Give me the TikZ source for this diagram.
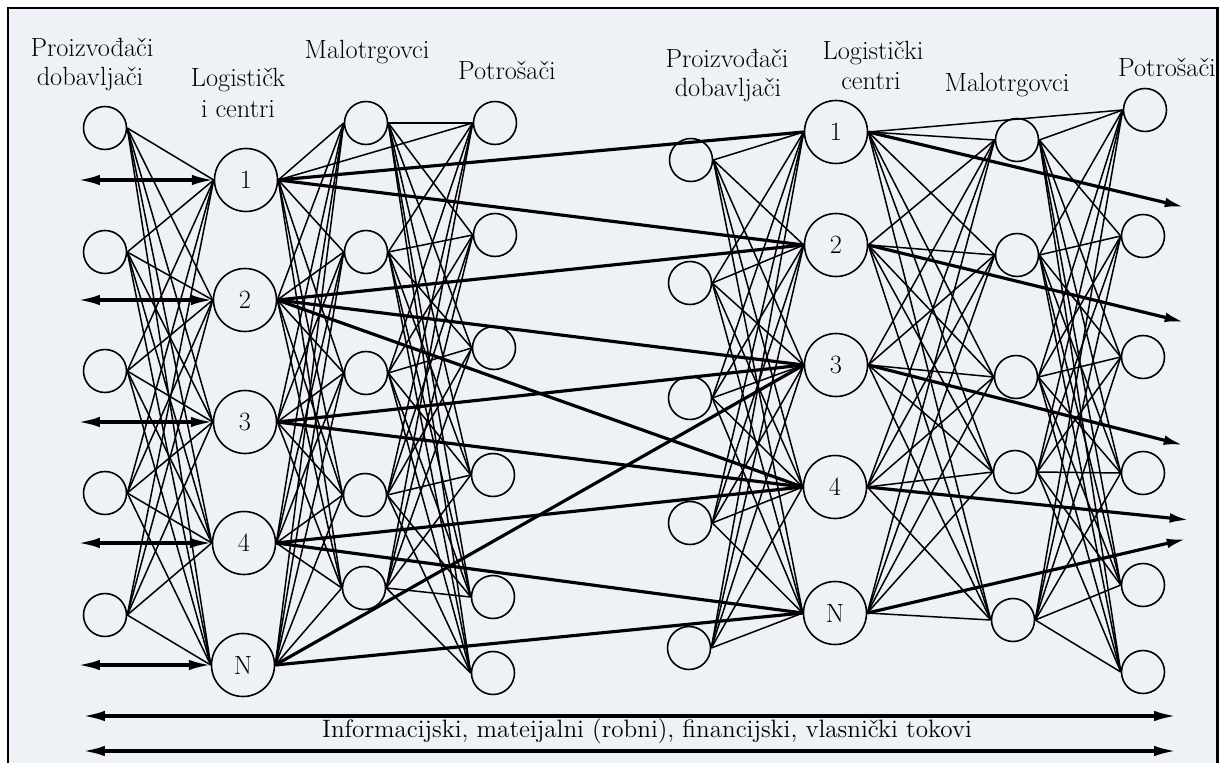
\documentclass[tikz,border=0pt]{standalone}
\usepackage{fontspec}
\usetikzlibrary{arrows.meta}
\definecolor{paper}{RGB}{238,241,245}
\tikzset{%
    unit/.style={circle,draw,line width=0.9pt,minimum size=0.86cm,inner sep=0pt,fill=paper},
    centre/.style={circle,draw,line width=0.9pt,minimum size=1.26cm,inner sep=0pt,fill=paper,font=\fontsize{15}{18}\selectfont},
    link/.style={line width=0.85pt},
    flow/.style={line width=1.8pt},
    flowarrow/.style={flow,-{Latex[length=11pt,width=5.5pt]}},
    bothway/.style={flow,{Latex[length=12.5pt,width=6pt]}-{Latex[length=12.5pt,width=6pt]}},
    heading/.style={anchor=base,inner sep=0pt,font=\fontsize{15}{18}\selectfont},
    frame/.style={line width=1.7pt,fill=paper},
}

\begin{document}
\begin{tikzpicture}[x=0.02cm,y=-0.02cm]
        \useasboundingbox (0,0) rectangle (1226,763);
        \draw[frame] (8,8) rectangle (1217,790);

        % headings
        \node[heading] (hpdA1) at (92,57) {Proizvođači};
        \node[heading] (hpdA2) at (90,86) {dobavljači};
        \node[heading] (hlcA1) at (238,87) {Logističk};
        \node[heading] (hlcA2) at (238,118) {i centri};
        \node[heading] (hmtA) at (367,59) {Malotrgovci};
        \node[heading] (hpoA) at (507,80) {Potrošači};
        \node[heading] (hpdB1) at (727,68) {Proizvođači};
        \node[heading] (hpdB2) at (728,97) {dobavljači};
        \node[heading] (hlcB1) at (873,60) {Logistički};
        \node[heading] (hlcB2) at (871,90) {centri};
        \node[heading] (hmtB) at (1007,92) {Malotrgovci};
        \node[heading] (hpoB) at (1167,77) {Potrošači};

        % left chain
        \node[unit] (pdA1) at (105,128) {};
        \node[unit] (pdA2) at (105,252) {};
        \node[unit] (pdA3) at (105,371) {};
        \node[unit] (pdA4) at (105,493) {};
        \node[unit] (pdA5) at (105,615) {};

        \node[centre] (lcA1) at (246,180) {1};
        \node[centre] (lcA2) at (245,300) {2};
        \node[centre] (lcA3) at (245,422) {3};
        \node[centre] (lcA4) at (244,543) {4};
        \node[centre] (lcA5) at (243,665) {N};

        \node[unit] (mtA1) at (366,123) {};
        \node[unit] (mtA2) at (366,252) {};
        \node[unit] (mtA3) at (366,373) {};
        \node[unit] (mtA4) at (365,495) {};
        \node[unit] (mtA5) at (364,588) {};

        \node[unit] (poA1) at (495,123) {};
        \node[unit] (poA2) at (495,235) {};
        \node[unit] (poA3) at (494,348) {};
        \node[unit] (poA4) at (493,475) {};
        \node[unit] (poA5) at (493,597) {};
        \node[unit] (poA6) at (493,673) {};

        % right chain
        \node[unit] (pdB1) at (691,160) {};
        \node[unit] (pdB2) at (690,283) {};
        \node[unit] (pdB3) at (690,398) {};
        \node[unit] (pdB4) at (690,523) {};
        \node[unit] (pdB5) at (689,648) {};

        \node[centre] (lcB1) at (836,132) {1};
        \node[centre] (lcB2) at (836,245) {2};
        \node[centre] (lcB3) at (836,365) {3};
        \node[centre] (lcB4) at (835,487) {4};
        \node[centre] (lcB5) at (835,613) {N};

        \node[unit] (mtB1) at (1017,140) {};
        \node[unit] (mtB2) at (1017,255) {};
        \node[unit] (mtB3) at (1016,377) {};
        \node[unit] (mtB4) at (1015,472) {};
        \node[unit] (mtB5) at (1013,620) {};

        \node[unit] (poB1) at (1145,110) {};
        \node[unit] (poB2) at (1143,236) {};
        \node[unit] (poB3) at (1143,357) {};
        \node[unit] (poB4) at (1143,473) {};
        \node[unit] (poB5) at (1143,585) {};
        \node[unit] (poB6) at (1143,672) {};

        % meshes
        \foreach \s in {A,B} {
            \foreach \i in {1,...,5} {
                \foreach \j in {1,...,5} {
                    \draw[link] (pd\s\i.east) -- (lc\s\j.west);
                    \draw[link] (lc\s\i.east) -- (mt\s\j.west);
                }
                \foreach \j in {1,...,6}
                    \draw[link] (mt\s\i.east) -- (po\s\j.west);
            }
            \draw[link] (lc\s1.east) -- (po\s1.west);
        }

        % flows between the two chains
        \draw[flow] (lcA1.east) -- (lcB1.west);
        \draw[flow] (lcA1.east) -- (lcB2.west);
        \draw[flow] (lcA2.east) -- (lcB2.west);
        \draw[flow] (lcA2.east) -- (lcB3.west);
        \draw[flow] (lcA2.east) -- (lcB4.west);
        \draw[flow] (lcA3.east) -- (lcB3.west);
        \draw[flow] (lcA3.east) -- (lcB4.west);
        \draw[flow] (lcA4.east) -- (lcB4.west);
        \draw[flow] (lcA4.east) -- (lcB5.west);
        \draw[flow] (lcA5.east) -- (lcB3.west);
        \draw[flow] (lcA5.east) -- (lcB5.west);

        \coordinate (inA1) at (78,180);
        \coordinate (inA2) at (78,300);
        \coordinate (inA3) at (78,422);
        \coordinate (inA4) at (78,543);
        \coordinate (inA5) at (78,665);
        \foreach \i in {1,...,5}
            \draw[bothway] (inA\i) -- (lcA\i.west);

        \coordinate (outB1) at (1184,207);
        \coordinate (outB2) at (1184,322);
        \coordinate (outB3) at (1183,445);
        \coordinate (outB4) at (1189,520);
        \coordinate (outB5) at (1186,539);
        \foreach \i in {1,...,5}
            \draw[flowarrow] (lcB\i.east) -- (outB\i);

        % bottom flows
        \coordinate (flowL1) at (83,716);
        \coordinate (flowR1) at (1176,716);
        \coordinate (flowL2) at (83,751);
        \coordinate (flowR2) at (1176,751);
        \draw[bothway] (flowL1) -- (flowR1);
        \draw[bothway] (flowL2) -- (flowR2);
        \node[heading,font=\fontsize{14.3}{17}\selectfont] (tokovi) at (647,737) {Informacijski, mateijalni (robni), financijski, vlasnički tokovi};
\end{tikzpicture}
\end{document}
